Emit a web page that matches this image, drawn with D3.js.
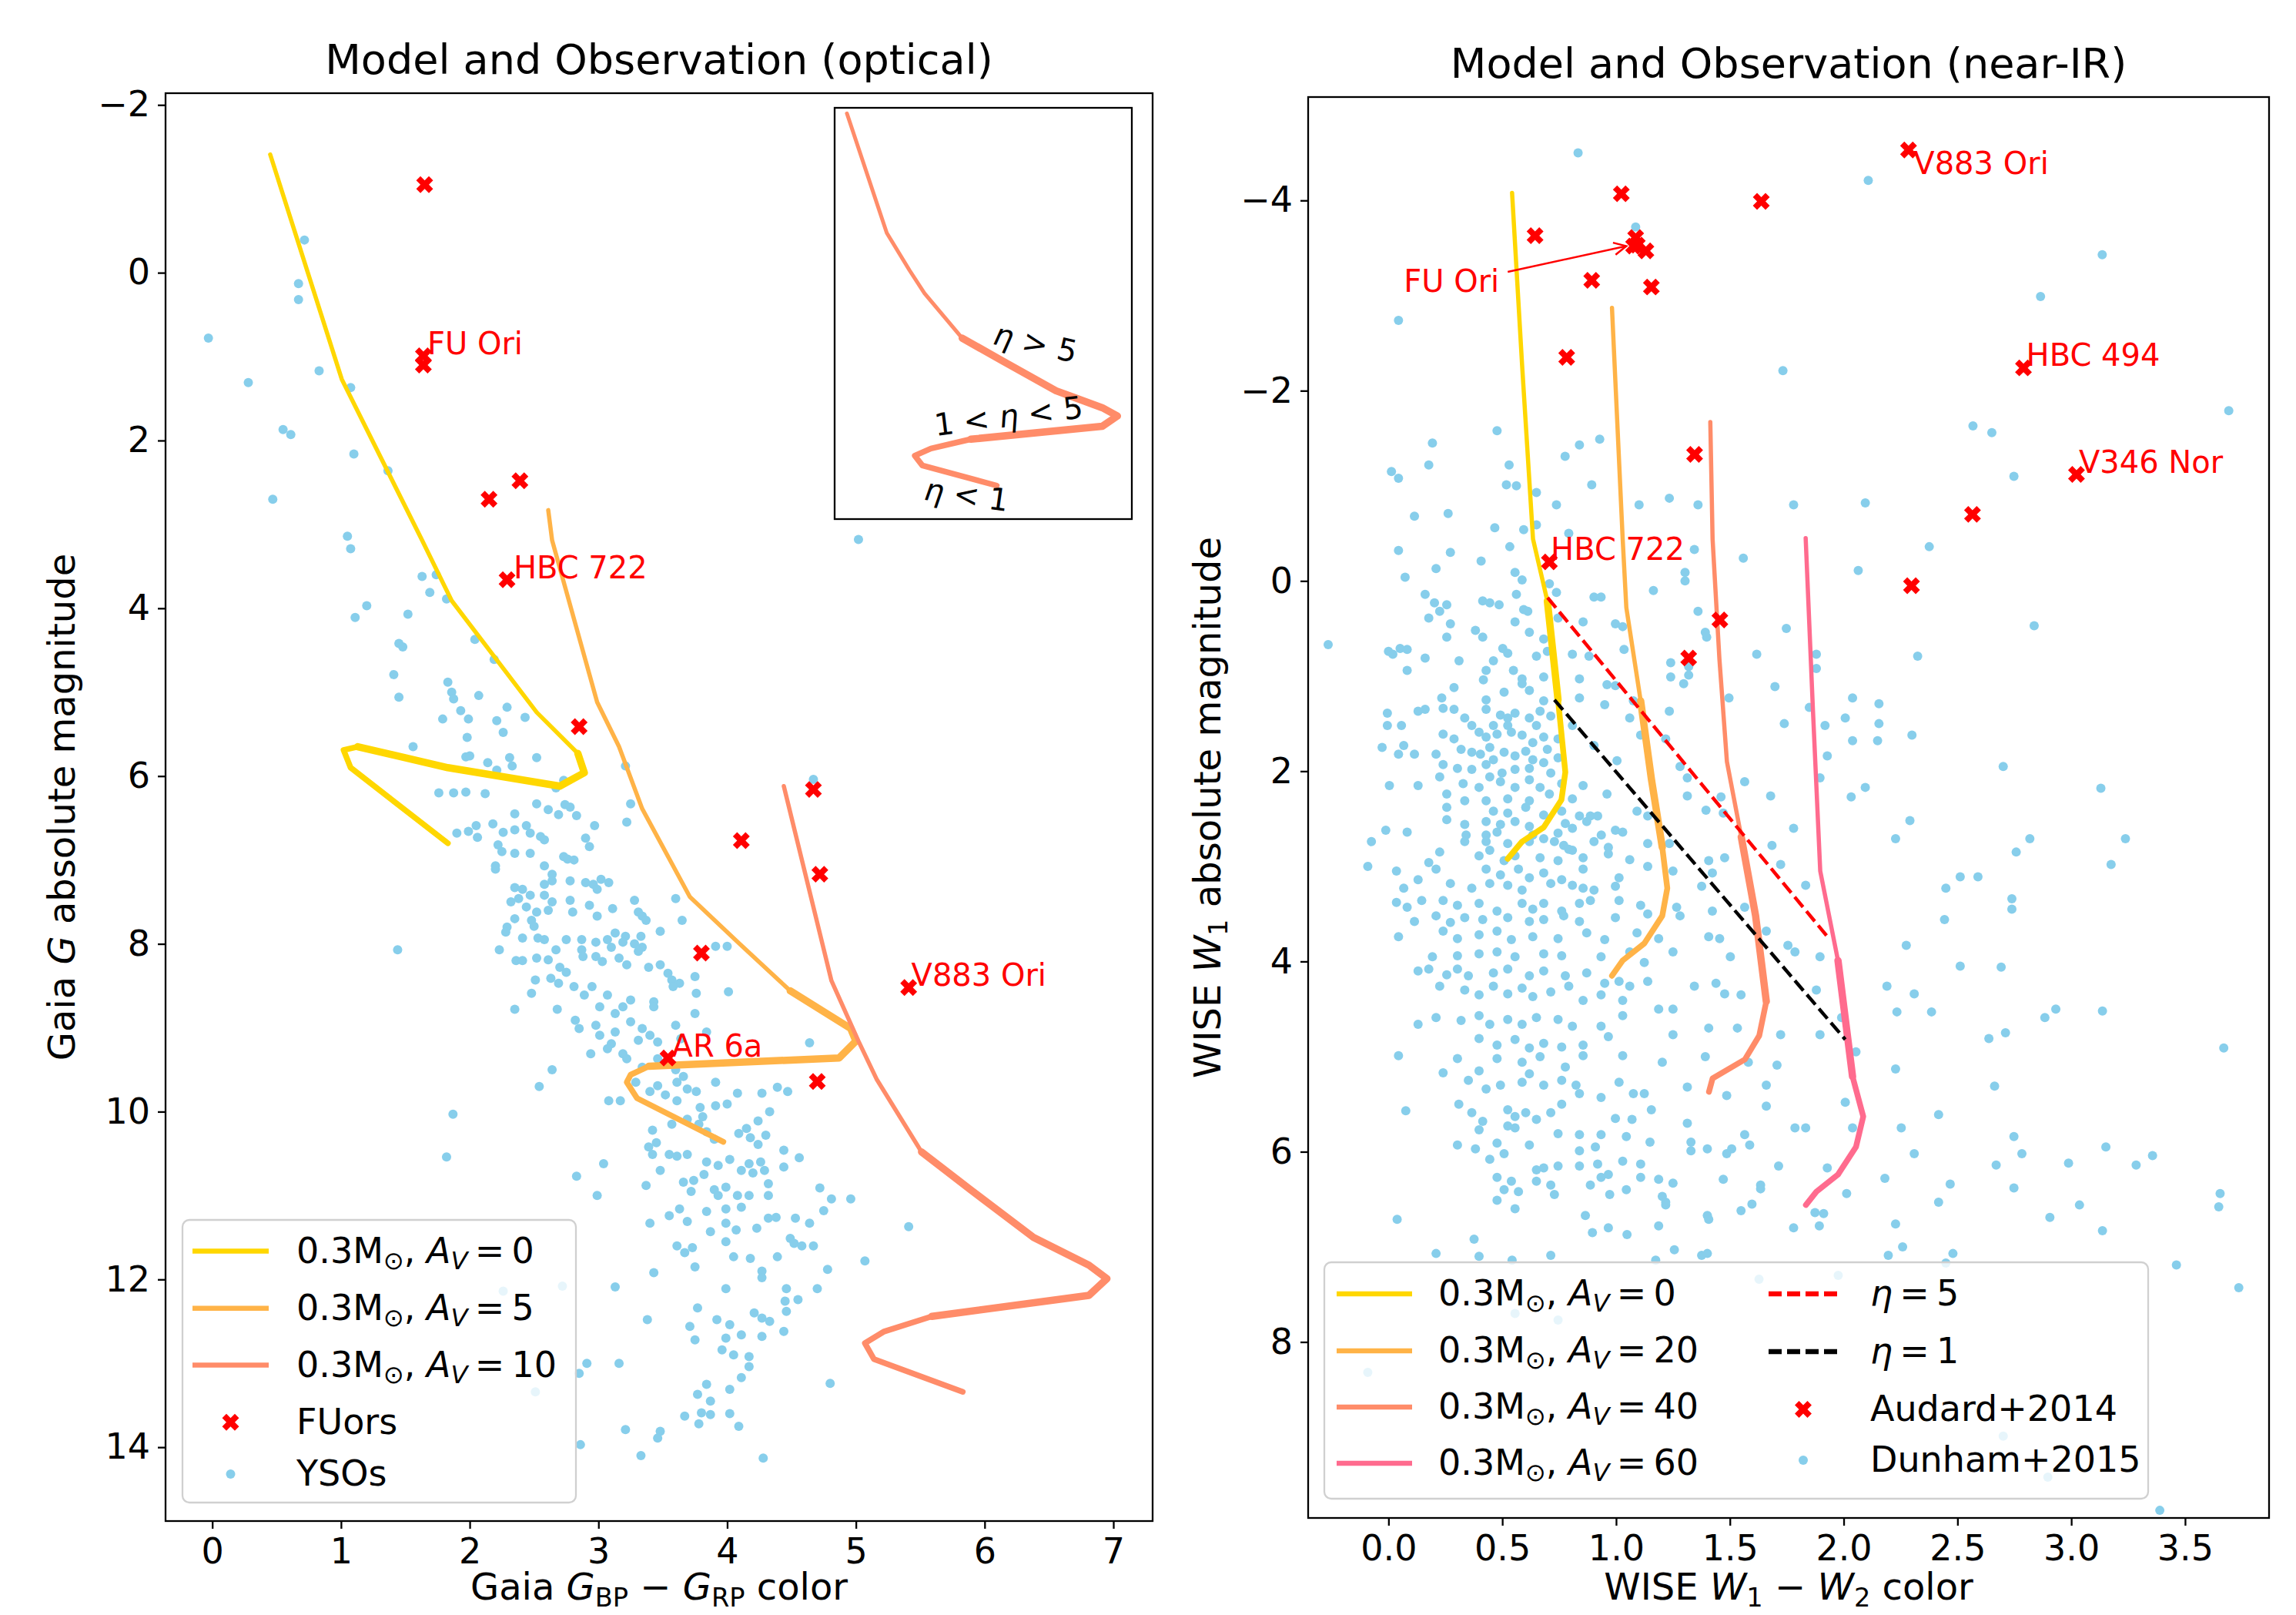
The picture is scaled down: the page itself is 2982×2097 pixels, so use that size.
<!DOCTYPE html>
<html>
<head>
<meta charset="utf-8">
<script src="https://cdn.jsdelivr.net/npm/d3@7"></script>
<style>
  body { margin: 0; background: #fff; }
  text { font-family: "DejaVu Sans", sans-serif; white-space: pre; }
</style>
</head>
<body>
<svg id="fig"></svg>
<script>
// ---------------- data ----------------
// model tracks: [colour, magnitude, regime]; regime a = early, b = eta>5 .. 1<eta<5, c = eta<1
const opticalAv = [0, 5, 10];
const opticalTracks = [
  [[0.45,-1.41,'a'],[1.006,1.27,'a'],[1.63,3.19,'a'],[1.86,3.91,'a'],[2.52,5.24,'a'],[2.84,5.73,'b'],[2.89,5.96,'b'],[2.70,6.12,'b'],[1.83,5.90,'b'],[1.13,5.65,'c'],[1.02,5.69,'c'],[1.075,5.90,'c'],[1.83,6.80,'c']],
  [[2.61,2.83,'a'],[2.64,3.19,'a'],[2.99,5.12,'a'],[3.16,5.65,'a'],[3.34,6.39,'a'],[3.71,7.44,'a'],[4.09,7.99,'a'],[4.49,8.56,'b'],[4.96,9.01,'b'],[5.00,9.16,'b'],[4.87,9.36,'b'],[3.39,9.46,'c'],[3.25,9.56,'c'],[3.22,9.65,'c'],[3.30,9.84,'c'],[3.97,10.36,'c']],
  [[4.44,6.12,'a'],[4.81,8.44,'a'],[5.02,9.16,'a'],[5.16,9.61,'a'],[5.51,10.48,'b'],[5.89,10.93,'b'],[6.38,11.50,'b'],[6.81,11.83,'b'],[6.95,11.99,'b'],[6.81,12.19,'b'],[5.59,12.44,'c'],[5.22,12.62,'c'],[5.07,12.76,'c'],[5.14,12.95,'c'],[5.83,13.34,'c']]
];
const opticalFuors = [[1.65,-1.05],[1.64,0.99],[1.64,1.10],[2.15,2.70],[2.39,2.48],[2.29,3.66],[2.85,5.41],[4.67,6.16],[4.11,6.77],[4.72,7.17],[3.80,8.11],[5.41,8.52],[3.54,9.36],[4.70,9.64]];
const opticalNames = [['FU Ori',1.67,0.97],['HBC 722',2.34,3.64],['V883 Ori',5.43,8.50],['AR 6a',3.57,9.34]];
const opticalYsos = [
  [0.716,-0.39],[0.67,0.13],[0.67,0.32],[-0.03,0.78],[0.83,1.17],[0.28,1.31],[1.075,1.37],[0.55,1.87],[0.61,1.93],[1.10,2.16],[1.365,2.36],[0.47,2.70],[1.05,3.14],[5.02,3.18],
  [1.075,3.29],[1.63,3.62],[1.74,3.60],[1.69,3.81],[1.82,3.89],[1.20,3.97],[1.11,4.11],[1.52,4.07],[2.04,4.37],[1.45,4.42],[1.48,4.46],[2.19,4.61],[1.41,4.79],[1.83,4.88],[1.86,5.00],[1.45,5.06],
  [1.875,5.08],[2.07,5.04],[2.29,5.18],[1.93,5.22],[1.79,5.32],[1.99,5.32],[2.21,5.34],[2.43,5.30],[2.26,5.48],[1.98,5.54],[1.56,5.65],[1.97,5.77],[2.00,5.76],[2.14,5.84],[2.31,5.78],[2.52,5.78],
  [2.33,5.88],[2.21,5.93],[2.73,6.05],[2.67,6.14],[3.21,5.88],[1.76,6.20],[1.875,6.20],[1.97,6.19],[2.12,6.21],[2.52,6.33],[2.61,6.40],[2.74,6.34],[2.78,6.37],[2.69,6.46],[2.83,6.47],[2.35,6.45],
  [3.25,6.33],[3.22,6.55],[2.97,6.59],[2.18,6.57],[2.05,6.59],[1.90,6.68],[1.99,6.66],[2.06,6.73],[2.26,6.67],[2.35,6.64],[2.44,6.59],[2.47,6.68],[2.55,6.72],[2.58,6.76],[2.90,6.74],[2.93,6.84],
  [2.22,6.82],[2.25,6.90],[2.35,6.92],[2.47,6.92],[2.20,7.07],[2.58,7.07],[2.73,6.96],[2.76,6.99],[2.81,7.00],[2.20,7.11],[2.64,7.17],[2.78,7.25],[2.35,7.33],[2.41,7.35],[2.38,7.46],[2.32,7.50],
  [2.58,7.29],[2.64,7.25],[2.90,7.27],[2.96,7.29],[3.02,7.23],[3.08,7.27],[2.99,7.35],[2.47,7.42],[2.58,7.42],[2.64,7.50],[2.44,7.56],[2.52,7.62],[2.61,7.60],[2.35,7.70],[2.29,7.80],[2.28,7.86],
  [2.48,7.72],[2.50,7.79],[2.78,7.48],[2.80,7.62],[2.93,7.54],[2.99,7.67],[3.11,7.58],[3.28,7.48],[3.31,7.62],[3.34,7.67],[3.37,7.72],[3.60,7.46],[3.65,7.72],[3.48,7.85],[3.33,7.91],[3.21,7.91],
  [3.13,7.87],[3.07,7.95],[3.19,7.98],[3.28,8.00],[3.34,8.04],[3.10,8.04],[2.98,7.98],[2.87,7.95],[2.75,7.95],[2.58,7.95],[2.53,7.93],[2.41,7.93],[2.23,8.07],[2.36,8.20],[2.41,8.20],[2.52,8.17],
  [2.61,8.19],[2.67,8.07],[2.70,8.28],[2.75,8.34],[2.87,8.07],[2.88,8.15],[2.98,8.15],[3.03,8.21],[3.16,8.17],[3.22,8.25],[3.31,8.09],[3.39,8.28],[3.48,8.25],[3.54,8.35],[3.57,8.43],[3.63,8.47],
  [3.75,8.39],[3.91,8.03],[4.00,8.03],[4.01,8.57],[3.76,8.59],[3.58,8.51],[3.43,8.69],[3.43,8.75],[3.25,8.67],[3.19,8.75],[3.13,8.83],[3.07,8.61],[3.01,8.75],[2.95,8.51],[2.89,8.61],[2.81,8.51],
  [2.69,8.47],[2.63,8.41],[2.51,8.43],[2.48,8.59],[2.35,8.78],[2.68,8.78],[2.82,8.91],[2.85,9.01],[2.98,8.97],[3.01,9.09],[3.13,9.05],[3.25,8.93],[3.34,9.01],[3.40,9.09],[3.31,9.15],[3.46,9.17],
  [3.60,8.97],[3.75,8.83],[3.84,9.05],[3.64,9.13],[3.46,9.37],[3.34,9.47],[3.10,9.19],[3.07,9.25],[3.19,9.31],[3.22,9.37],[2.94,9.31],[4.64,9.18],[2.64,9.50],[3.60,9.50],[3.66,9.58],[1.44,8.07],[4.67,6.04],
  [2.54,9.70],[3.08,9.87],[3.17,9.87],[3.29,9.65],[3.40,9.76],[3.46,9.69],[3.52,9.80],[3.61,9.65],[3.69,9.73],[3.76,9.76],[3.91,9.65],[3.61,9.87],[3.79,9.95],[3.91,9.93],[4.00,9.91],[4.08,9.78],
  [4.27,9.78],[4.39,9.71],[4.47,9.76],[4.33,10.00],[4.24,10.11],[4.15,10.20],[4.09,10.26],[4.18,10.31],[4.30,10.28],[4.24,10.39],[3.42,10.22],[3.45,10.37],[3.57,10.15],[3.69,10.09],[3.78,10.15],
  [3.84,10.24],[3.81,10.06],[3.90,10.33],[3.39,10.42],[3.42,10.51],[3.55,10.51],[3.61,10.53],[3.69,10.51],[3.84,10.60],[3.93,10.64],[4.02,10.57],[4.17,10.62],[4.26,10.60],[4.11,10.70],[4.20,10.73],
  [4.29,10.70],[4.44,10.46],[4.56,10.55],[4.44,10.66],[3.48,10.70],[3.82,10.75],[3.66,10.84],[3.74,10.82],[4.32,10.86],[3.90,10.93],[3.99,10.90],[3.93,11.00],[4.08,11.00],[4.17,11.00],[4.32,11.00],
  [3.72,10.95],[3.37,10.88],[3.04,10.62],[2.83,10.77],[2.99,11.00],[1.82,10.54],[1.87,10.03],[3.63,11.16],[3.84,11.19],[3.99,11.16],[4.11,11.14],[4.72,10.91],[4.81,11.04],[4.96,11.04],[4.75,11.18],
  [4.32,11.27],[4.38,11.26],[4.53,11.27],[4.64,11.33],[3.55,11.24],[3.40,11.33],[3.69,11.31],[3.87,11.43],[3.99,11.33],[4.07,11.41],[4.23,11.39],[4.49,11.51],[4.52,11.57],[4.58,11.60],[4.67,11.60],
  [3.99,11.55],[3.61,11.60],[3.67,11.68],[3.73,11.62],[4.05,11.73],[4.18,11.75],[4.39,11.73],[5.41,11.37],[5.07,11.78],[3.75,11.85],[3.43,11.92],[4.27,11.90],[4.27,11.98],[4.78,11.88],[4.70,12.11],
  [4.46,12.11],[3.99,12.11],[3.13,12.09],[2.72,12.08],[2.26,12.14],[4.55,12.24],[4.45,12.26],[3.77,12.34],[3.38,12.48],[3.92,12.48],[4.21,12.40],[4.27,12.46],[4.33,12.50],[4.46,12.38],[4.02,12.54],
  [4.11,12.66],[4.27,12.68],[4.44,12.62],[3.71,12.56],[3.99,12.70],[3.75,12.72],[3.96,12.84],[4.05,12.90],[4.17,12.92],[2.91,13.00],[3.16,13.00],[4.17,13.04],[4.11,13.17],[4.80,13.24],[4.02,13.31],
  [3.84,13.25],[3.77,13.37],[3.87,13.45],[3.67,13.63],[3.80,13.59],[3.87,13.61],[4.02,13.60],[3.78,13.72],[4.09,13.75],[3.21,13.79],[3.48,13.81],[3.46,13.89],[3.33,14.10],[4.28,14.13],[2.86,13.97],
  [2.85,13.12],[2.51,13.34]
];
// inset curve labels: [text parts, colour, magnitude, rotation]
const insetNotes = [
  [[['η','i'],[' > 5','']], 6.19, 10.57, 13],
  [[['1 < ',''],['η','i'],[' < 5','']], 5.94, 11.99, -7],
  [[['η','i'],[' < 1','']], 5.55, 13.52, 8]
];

const irAv = [0, 20, 40, 60];
const irTracks = [
  [[0.543,-4.08,'a'],[0.587,-2.27,'a'],[0.635,-0.44,'a'],[0.698,0.21,'b'],[0.745,1.25,'c'],[0.777,2.01,'c'],[0.760,2.30,'c'],[0.682,2.59,'c'],[0.587,2.74,'c'],[0.524,2.92,'c']],
  [[0.982,-2.87,'a'],[1.029,-0.44,'a'],[1.045,0.28,'a'],[1.108,1.26,'b'],[1.155,2.08,'b'],[1.203,2.80,'c'],[1.225,3.23,'c'],[1.203,3.52,'c'],[1.124,3.81,'c'],[1.029,3.99,'c'],[0.982,4.15,'c']],
  [[1.414,-1.67,'a'],[1.424,-0.44,'a'],[1.454,0.82,'a'],[1.487,1.90,'a'],[1.55,2.69,'b'],[1.613,3.52,'b'],[1.66,4.42,'c'],[1.629,4.78,'c'],[1.566,5.03,'c'],[1.424,5.23,'c'],[1.408,5.37,'c']],
  [[1.833,-0.45,'a'],[1.865,1.36,'a'],[1.897,3.05,'a'],[1.975,3.99,'b'],[2.039,5.21,'c'],[2.086,5.63,'c'],[2.054,5.95,'c'],[1.975,6.24,'c'],[1.88,6.42,'c'],[1.834,6.56,'c']]
];
const etaLines = [
  ['5', [[0.699,0.175],[1.929,3.74]]],
  ['1', [[0.729,1.25],[2.007,4.82]]]
];
const irFuors = [[2.285,-4.53],[1.023,-4.07],[1.638,-3.99],[0.644,-3.63],[1.086,-3.61],[1.077,-3.52],[1.093,-3.53],[1.131,-3.47],[0.893,-3.16],[1.155,-3.09],[0.783,-2.35],[2.79,-2.24],[1.345,-1.33],[3.023,-1.12],[2.566,-0.70],[0.707,-0.20],[2.298,0.05],[1.456,0.41],[1.319,0.81]];
const irNames = [['V883 Ori',2.307,-4.28],['HBC 494',2.802,-2.26],['V346 Nor',3.033,-1.135],['HBC 722',0.713,-0.22],['FU Ori',0.067,-3.04]];
const fuOriArrow = [[0.524,-3.25],[1.045,-3.52]];
const irYsos = [
  [0.833,-4.50],[2.108,-4.21],[1.086,-3.72],[3.136,-3.43],[2.865,-2.99],[0.044,-2.74],[1.733,-2.21],[3.692,-1.79],[2.568,-1.63],[2.651,-1.56],[0.477,-1.58],[0.193,-1.45],[0.839,-1.43],
  [0.928,-1.49],[0.776,-1.31],[0.177,-1.22],[0.530,-1.22],[0.013,-1.15],[0.044,-1.08],[0.518,-1.01],[0.562,-1.00],[0.893,-1.01],[2.748,-1.10],[0.650,-0.93],[1.234,-0.87],[1.101,-0.80],
  [1.360,-0.80],[1.780,-0.80],[2.095,-0.82],[0.738,-0.80],[0.114,-0.68],[0.262,-0.71],[0.467,-0.56],[0.594,-0.54],[0.650,-0.59],[0.792,-0.50],
  [0.044,-0.32],[0.272,-0.30],[0.533,-0.36],[1.344,-0.33],[1.559,-0.24],[2.376,-0.36],[0.407,-0.21],[0.209,-0.13],[0.073,-0.04],[0.556,-0.09],[0.587,-0.01],[0.707,0.03],[1.303,-0.09],
  [1.303,0.00],[2.064,-0.11],[1.164,0.10],[0.903,0.17],[0.934,0.17],[0.161,0.14],[0.562,0.14],[0.738,0.12],[0.414,0.21],[0.445,0.23],[0.202,0.23],[0.256,0.25],[0.486,0.25],[0.594,0.30],
  [0.612,0.32],[0.225,0.32],[0.177,0.39],[0.272,0.45],[0.556,0.43],[0.745,0.39],[1.360,0.32],[0.997,0.45],[1.029,0.48],[0.855,0.43],[1.748,0.50],[2.837,0.47],[0.382,0.52],[0.414,0.59],
  [0.256,0.59],[0.619,0.54],[0.682,0.61],[1.398,0.59],[1.392,0.54],[-0.265,0.67],[0.0,0.74],[0.019,0.77],[0.051,0.71],[0.082,0.72],[0.161,0.81],[0.310,0.84],[0.502,0.71],[0.524,0.76],
  [0.461,0.84],[0.650,0.79],[0.698,0.74],[0.808,0.77],[0.881,0.79],[1.035,0.72],[1.240,0.86],[1.319,0.90],[1.618,0.77],[1.880,0.77],[1.880,0.92],[2.325,0.79],[0.082,0.94],[0.429,0.94],
  [0.549,0.94],[0.417,1.04],[0.587,1.03],[0.682,1.01],[0.839,1.03],[0.960,1.09],[0.997,1.10],[1.240,1.01],[1.319,0.99],[1.297,1.08],[1.698,1.11],[0.288,1.12],[0.234,1.23],[0.508,1.17],
  [0.429,1.25],[0.587,1.08],[0.619,1.15],[0.682,1.26],[0.839,1.23],[0.950,1.30],[1.076,1.26],[1.496,1.23],[1.849,1.33],[2.039,1.23],[2.155,1.29],[0.161,1.35],[0.130,1.37],[-0.005,1.39],
  [0.240,1.34],[0.288,1.35],[0.335,1.44],[0.429,1.35],[0.492,1.41],[0.524,1.44],[0.556,1.39],[0.619,1.44],[0.666,1.37],[0.366,1.52],[0.461,1.52],[0.524,1.52],[0.650,1.52],[0.713,1.42],
  [0.808,1.52],[1.060,1.44],[1.234,1.37],[1.739,1.50],[1.918,1.52],[2.007,1.44],[2.155,1.50],[-0.005,1.52],[0.057,1.52],[0.240,1.61],[0.288,1.66],[0.398,1.59],[0.429,1.64],[0.477,1.61],
  [0.540,1.59],[0.587,1.62],[0.634,1.70],[0.682,1.64],[0.745,1.66],[1.108,1.62],[1.218,1.66],[2.039,1.68],[2.149,1.68],[2.300,1.62],[-0.028,1.75],[0.067,1.73],[0.044,1.82],[0.114,1.82],
  [0.209,1.82],[0.319,1.77],[0.366,1.80],[0.404,1.82],[0.445,1.75],[0.461,1.88],[0.508,1.80],[0.556,1.84],[0.603,1.79],[0.634,1.88],[0.698,1.77],[0.745,1.86],[0.903,1.73],[1.004,1.89],
  [1.281,1.95],[1.928,1.84],[2.701,1.95],[0.240,1.93],[0.303,1.97],[0.366,1.98],[0.429,1.93],[0.499,2.02],[0.556,1.98],[0.619,1.97],[0.682,1.91],[0.713,2.02],[0.445,2.06],[0.225,2.06],
  [0.004,2.15],[0.130,2.15],[0.328,2.13],[0.398,2.17],[0.492,2.11],[0.556,2.17],[0.619,2.09],[0.666,2.17],[0.761,2.13],[0.855,2.15],[1.313,2.07],[1.565,2.11],[1.896,2.07],[2.095,2.17],
  [3.130,2.18],[0.707,2.24],[0.524,2.29],[0.429,2.31],[0.335,2.31],[0.256,2.24],[0.619,2.31],[0.808,2.29],[0.960,2.24],[1.313,2.26],[1.461,2.27],[1.679,2.26],[2.033,2.27],[0.256,2.38],
  [0.461,2.42],[0.524,2.44],[0.603,2.38],[0.682,2.46],[0.761,2.42],[0.839,2.47],[0.887,2.47],[0.919,2.47],[1.092,2.42],[1.139,2.47],[1.395,2.41],[1.471,2.44],[0.256,2.51],[0.335,2.56],
  [0.429,2.53],[0.492,2.56],[0.556,2.53],[0.619,2.58],[0.777,2.55],[0.808,2.60],[0.871,2.53],[0.997,2.62],[2.291,2.52],[-0.012,2.62],[0.082,2.64],[0.341,2.67],[0.429,2.67],[0.477,2.64],
  [0.634,2.67],[0.682,2.71],[0.745,2.65],[0.935,2.67],[1.029,2.64],[1.780,2.60],[-0.075,2.74],[0.335,2.74],[0.429,2.74],[0.524,2.76],[0.619,2.74],[0.729,2.74],[0.770,2.78],[0.808,2.83],
  [0.903,2.74],[0.966,2.80],[1.139,2.76],[1.234,2.76],[2.228,2.71],[2.818,2.71],[3.238,2.71],[2.758,2.85],[0.225,2.85],[0.398,2.89],[0.445,2.83],[0.508,2.94],[0.556,2.89],[0.666,2.91],
  [0.745,2.94],[0.792,2.82],[0.855,2.91],[0.966,2.87],[1.060,2.93],[1.407,2.94],[1.477,2.91],[1.685,2.78],[-0.091,3.00],[0.035,3.05],[0.177,2.96],[0.209,3.03],[0.130,3.14],[0.429,3.03],
  [0.492,3.09],[0.571,3.03],[0.619,3.12],[0.682,3.07],[0.761,3.14],[0.855,3.03],[1.013,3.12],[1.139,3.00],[1.250,3.05],[1.423,3.07],[1.723,2.98],[3.175,2.98],[2.512,3.11],[2.590,3.11],
  [0.067,3.23],[0.272,3.18],[0.366,3.23],[0.445,3.18],[0.524,3.20],[0.587,3.25],[0.713,3.18],[0.808,3.20],[0.855,3.23],[0.903,3.25],[0.997,3.21],[1.376,3.21],[1.833,3.20],[2.449,3.23],
  [0.035,3.38],[0.082,3.43],[0.146,3.36],[0.240,3.36],[0.303,3.41],[0.398,3.39],[0.477,3.47],[0.587,3.39],[0.634,3.45],[0.682,3.39],[0.761,3.47],[0.839,3.39],[0.887,3.36],[1.013,3.36],
  [1.108,3.41],[1.266,3.43],[2.739,3.34],[2.739,3.45],[0.114,3.58],[0.209,3.52],[0.272,3.59],[0.335,3.54],[0.414,3.56],[0.524,3.54],[0.619,3.58],[0.682,3.56],[0.770,3.52],[0.839,3.58],
  [0.997,3.54],[1.139,3.50],[1.281,3.52],[1.423,3.47],[1.565,3.43],[2.443,3.56],[0.044,3.74],[0.240,3.68],[0.303,3.76],[0.398,3.72],[0.477,3.68],[0.540,3.77],[0.634,3.74],[0.745,3.76],
  [0.871,3.70],[0.950,3.77],[1.092,3.70],[1.187,3.76],[1.407,3.74],[1.455,3.76],[1.660,3.68],[0.193,3.95],[0.303,3.94],[0.398,3.92],[0.477,3.90],[0.556,3.95],[0.682,3.92],[0.761,3.94],
  [0.934,3.95],[1.060,3.90],[1.124,4.01],[1.250,3.90],[1.502,3.95],[1.755,3.83],[1.786,3.90],[1.896,3.95],[2.275,3.83],[2.512,4.05],[2.692,4.06],[0.130,4.10],[0.177,4.08],[0.256,4.14],
  [0.303,4.08],[0.351,4.15],[0.461,4.12],[0.524,4.08],[0.619,4.15],[0.682,4.10],[0.777,4.15],[0.871,4.12],[0.950,4.23],[1.013,4.21],[1.060,4.26],[1.139,4.21],[1.344,4.26],[1.439,4.23],
  [1.880,4.30],[2.190,4.26],[2.310,4.34],[0.225,4.26],[0.335,4.30],[0.398,4.35],[0.461,4.26],[0.524,4.34],[0.587,4.28],[0.634,4.37],[0.713,4.32],[0.792,4.26],[0.855,4.41],[0.934,4.35],
  [1.029,4.41],[1.187,4.50],[1.250,4.50],[1.477,4.34],[1.549,4.35],[2.234,4.53],[2.386,4.53],[2.884,4.59],[2.932,4.50],[3.137,4.52],[0.130,4.66],[0.209,4.59],[0.319,4.62],[0.398,4.57],
  [0.445,4.66],[0.524,4.61],[0.587,4.66],[0.650,4.59],[0.745,4.61],[0.808,4.68],[0.934,4.68],[1.029,4.57],[1.250,4.77],[1.407,4.70],[1.533,4.70],[1.723,4.77],[1.896,4.77],[1.991,4.59],
  [2.638,4.81],[2.711,4.75],[0.044,4.99],[0.303,5.02],[0.398,4.81],[0.477,4.88],[0.556,4.82],[0.619,4.91],[0.682,4.86],[0.761,4.90],[0.855,4.88],[0.966,4.79],[0.477,5.02],[0.587,5.06],
  [0.666,5.00],[0.777,5.11],[0.855,4.99],[1.029,4.99],[1.203,5.06],[1.392,5.00],[1.581,5.06],[1.707,5.09],[2.054,4.95],[2.228,5.13],[3.670,4.91],[0.240,5.17],[0.398,5.15],[0.619,5.18],
  [0.351,5.25],[0.429,5.34],[0.492,5.30],[0.587,5.27],[0.682,5.30],[0.761,5.25],[0.824,5.30],[1.013,5.27],[1.313,5.32],[1.660,5.30],[2.663,5.31],[0.076,5.57],[0.309,5.50],[0.366,5.59],
  [0.414,5.68],[0.524,5.56],[0.556,5.63],[0.603,5.59],[0.650,5.66],[0.713,5.59],[0.761,5.50],[0.839,5.39],[0.934,5.43],[1.076,5.39],[1.124,5.39],[1.155,5.56],[0.997,5.65],[1.070,5.66],
  [1.313,5.70],[1.486,5.41],[1.660,5.52],[2.007,5.48],[2.417,5.61],[0.398,5.77],[0.524,5.73],[0.556,5.75],[0.745,5.81],[0.839,5.82],[0.934,5.82],[1.045,5.84],[1.149,5.90],[1.329,5.90],
  [1.565,5.82],[1.786,5.75],[1.833,5.75],[2.039,5.75],[2.253,5.75],[2.748,5.84],[0.303,5.93],[0.382,5.97],[0.477,5.91],[0.508,6.02],[0.619,5.93],[0.839,5.99],[0.909,5.95],[1.329,5.99],
  [1.401,5.97],[1.486,6.02],[1.508,5.97],[1.587,5.93],[2.310,6.02],[2.783,6.02],[3.152,5.95],[3.357,6.04],[0.445,6.08],[0.682,6.17],[0.745,6.15],[0.839,6.15],[0.919,6.13],[1.029,6.10],
  [1.108,6.13],[1.714,6.15],[1.928,6.17],[2.670,6.14],[2.988,6.12],[3.285,6.14],[0.477,6.27],[0.540,6.31],[0.650,6.19],[0.650,6.31],[0.713,6.35],[0.887,6.35],[0.934,6.27],[0.966,6.24],
  [1.108,6.27],[1.187,6.29],[1.250,6.33],[1.471,6.29],[1.635,6.35],[2.181,6.28],[2.468,6.34],[2.748,6.38],[0.508,6.40],[0.571,6.42],[0.729,6.45],[0.972,6.45],[1.045,6.40],[1.203,6.47],
  [1.218,6.56],[1.635,6.39],[2.013,6.44],[3.654,6.44],[0.477,6.51],[0.556,6.60],[1.218,6.53],[2.417,6.53],[3.036,6.56],[3.648,6.58],[1.549,6.62],[1.597,6.55],[1.874,6.64],[1.912,6.65],
  [0.038,6.71],[0.865,6.67],[1.401,6.67],[1.407,6.71],[2.906,6.69],[0.966,6.80],[1.187,6.78],[1.780,6.80],[1.893,6.78],[2.228,6.76],[3.137,6.83],[0.896,6.85],[1.048,6.87],[0.376,6.92],
  [2.259,7.00],[1.256,7.03],[2.196,7.09],[2.480,7.07],[0.209,7.07],[0.398,7.10],[0.713,7.09],[1.376,7.09],[1.401,7.07],[3.462,7.19],[0.543,7.14],[1.174,7.14],[3.736,7.43],
  [-0.091,8.32],[2.449,7.17],[1.976,7.30],[1.628,7.34],[0.556,7.70],[0.745,7.77],[2.701,8.99],[2.897,9.42],[3.389,9.77]
];

// ---------------- styles / layout ----------------
const W = 2982, H = 2097;
const trackColors = ['#FFD700', '#FFB347', '#FF8C69', '#FF6B8E'];
const trackWidth = {a: 5.5, b: 9.5, c: 7.5};
const ysoColor = '#87CEEB';
const fuorColor = '#FF0000';

const svg = d3.select('#fig').attr('width', W).attr('height', H);
svg.append('rect').attr('width', W).attr('height', H).attr('fill', '#fff');

// text with italic / subscript pieces, parts = [[string, 'i' | 's' | 'is' | '']]
function richText(sel, parts, size) {
    let shift = 0;
    parts.forEach(([t, st]) => {
        const sub = st.includes('s');
        const ts = sel.append('tspan').text(t)
            .attr('font-style', st.includes('i') ? 'italic' : 'normal')
            .attr('font-size', sub ? size * 0.7 : size);
        const want = sub ? size * 0.18 : 0;
        if (want !== shift) { ts.attr('dy', want - shift); shift = want; }
    });
    return sel;
}

function xMarker(sel, cx, cy) {
    return sel.append('path')
        .attr('d', d3.symbol(d3.symbolCross, 300)())
        .attr('transform', `translate(${cx},${cy}) rotate(45)`)
        .attr('fill', fuorColor);
}

// split a track into runs of equal regime
function runs(track) {
    const out = [];
    for (let i = 0; i < track.length - 1; i++) {
        const last = out[out.length - 1];
        if (last && last.regime === track[i][2]) last.pts.push(track[i + 1]);
        else out.push({regime: track[i][2], pts: [track[i], track[i + 1]]});
    }
    return out;
}

function avLabel(av) {
    return [['0.3M', ''], ['⊙', 's'], [', ', ''], ['A', 'i'], ['V', 'is'], ['\u2009=\u2009' + av, '']];
}

class CmdPanel {

    constructor(_config) {
        this.config = _config;
        this.initVis();
    }

    initVis() {
        let vis = this;
        const c = vis.config;

        vis.g = svg.append('g');
        vis.x = d3.scaleLinear().domain(c.xDomain).range([c.left, c.right]);
        vis.y = d3.scaleLinear().domain(c.yDomain).range([c.top, c.bottom]);

        vis.g.append('clipPath').attr('id', c.id + '-clip')
            .append('rect')
            .attr('x', c.left).attr('y', c.top)
            .attr('width', c.right - c.left).attr('height', c.bottom - c.top);

        vis.chart = vis.g.append('g').attr('clip-path', `url(#${c.id}-clip)`);
        vis.line = d3.line().x(d => vis.x(d[0])).y(d => vis.y(d[1]));
    }

    render() {
        let vis = this;
        const c = vis.config;

        // YSOs
        vis.chart.selectAll('.yso')
            .data(c.ysos)
            .join('circle')
            .attr('class', 'yso')
            .attr('cx', d => vis.x(d[0]))
            .attr('cy', d => vis.y(d[1]))
            .attr('r', 6)
            .attr('fill', ysoColor);

        // model tracks
        c.tracks.forEach((track, i) => {
            runs(track).forEach(r => {
                vis.chart.append('path')
                    .attr('d', vis.line(r.pts))
                    .attr('fill', 'none')
                    .attr('stroke', trackColors[i])
                    .attr('stroke-width', trackWidth[r.regime])
                    .attr('stroke-linejoin', 'round')
                    .attr('stroke-linecap', 'round');
            });
        });

        // eta lines
        (c.etaLines || []).forEach(([eta, pts]) => {
            vis.chart.append('path')
                .attr('d', vis.line(pts))
                .attr('fill', 'none')
                .attr('stroke', eta === '5' ? '#FF0000' : '#000')
                .attr('stroke-width', 4.5)
                .attr('stroke-dasharray', '17,7');
        });

        // FUors
        c.fuors.forEach(d => xMarker(vis.chart, vis.x(d[0]), vis.y(d[1])));

        // names
        vis.g.selectAll('.name')
            .data(c.names)
            .join('text')
            .attr('class', 'name')
            .attr('x', d => vis.x(d[1]))
            .attr('y', d => vis.y(d[2]))
            .attr('font-size', 40)
            .attr('fill', fuorColor)
            .text(d => d[0]);

        if (c.arrow) {
            const [p0, p1] = c.arrow;
            const x0 = vis.x(p0[0]), y0 = vis.y(p0[1]), x1 = vis.x(p1[0]), y1 = vis.y(p1[1]);
            const ang = Math.atan2(y1 - y0, x1 - x0);
            vis.g.append('line')
                .attr('x1', x0).attr('y1', y0).attr('x2', x1).attr('y2', y1)
                .attr('stroke', fuorColor).attr('stroke-width', 2.5);
            const hl = 16, hw = 8;
            const bx = x1 - hl * Math.cos(ang), by = y1 - hl * Math.sin(ang);
            vis.g.append('path')
                .attr('d', `M${bx + hw * Math.sin(ang)},${by - hw * Math.cos(ang)} L${x1},${y1} L${bx - hw * Math.sin(ang)},${by + hw * Math.cos(ang)}`)
                .attr('fill', 'none').attr('stroke', fuorColor).attr('stroke-width', 2.5);
        }

        vis.renderAxes();
        if (c.inset) vis.renderInset();
        vis.renderLegend();
    }

    renderAxes() {
        let vis = this;
        const c = vis.config;

        const xAxis = d3.axisBottom(vis.x).tickValues(c.xTicks).tickFormat(d3.format(c.xFormat))
            .tickSize(10).tickSizeOuter(0).tickPadding(12);
        const yAxis = d3.axisLeft(vis.y).tickValues(c.yTicks).tickFormat(d3.format('d'))
            .tickSize(10).tickSizeOuter(0).tickPadding(10);

        const gx = vis.g.append('g').attr('transform', `translate(0,${c.bottom})`).call(xAxis);
        const gy = vis.g.append('g').attr('transform', `translate(${c.left},0)`).call(yAxis);
        [gx, gy].forEach(ax => {
            ax.select('.domain').remove();
            ax.selectAll('line').attr('stroke', '#000').attr('stroke-width', 2.3);
            ax.selectAll('text').attr('font-size', 46).attr('fill', '#000')
                .attr('font-family', '"DejaVu Sans", sans-serif');
        });

        vis.g.append('rect')
            .attr('x', c.left).attr('y', c.top)
            .attr('width', c.right - c.left).attr('height', c.bottom - c.top)
            .attr('fill', 'none').attr('stroke', '#000').attr('stroke-width', 2.3);

        vis.g.append('text')
            .attr('x', (c.left + c.right) / 2).attr('y', c.top - 25)
            .attr('text-anchor', 'middle').attr('font-size', 54)
            .text(c.title);

        richText(vis.g.append('text')
            .attr('x', (c.left + c.right) / 2).attr('y', 2077)
            .attr('text-anchor', 'middle'), c.xLabel, 48);

        richText(vis.g.append('text')
            .attr('transform', `translate(${c.yLabelX},${(c.top + c.bottom) / 2}) rotate(-90)`)
            .attr('text-anchor', 'middle'), c.yLabel, 48);
    }

    renderInset() {
        let vis = this;
        const b = vis.config.inset;
        const ix = d3.scaleLinear().domain(b.xDomain).range([b.left, b.right]);
        const iy = d3.scaleLinear().domain(b.yDomain).range([b.top, b.bottom]);
        const line = d3.line().x(d => ix(d[0])).y(d => iy(d[1]));

        const ig = vis.g.append('g');
        ig.append('rect')
            .attr('x', b.left).attr('y', b.top)
            .attr('width', b.right - b.left).attr('height', b.bottom - b.top)
            .attr('fill', '#fff');
        runs(b.track).forEach(r => {
            ig.append('path')
                .attr('d', line(r.pts))
                .attr('fill', 'none')
                .attr('stroke', trackColors[2])
                .attr('stroke-width', r.regime === 'a' ? 5 : trackWidth[r.regime])
                .attr('stroke-linejoin', 'round')
                .attr('stroke-linecap', 'round');
        });
        b.notes.forEach(([parts, nx, ny, rot]) => {
            richText(ig.append('text')
                .attr('transform', `translate(${ix(nx)},${iy(ny)}) rotate(${rot})`)
                .attr('text-anchor', 'middle').attr('dy', 14), parts, 40);
        });
        ig.append('rect')
            .attr('x', b.left).attr('y', b.top)
            .attr('width', b.right - b.left).attr('height', b.bottom - b.top)
            .attr('fill', 'none').attr('stroke', '#000').attr('stroke-width', 2.3);
    }

    renderLegend() {
        let vis = this;
        const L = vis.config.legend;
        const lg = vis.g.append('g');

        lg.append('rect')
            .attr('x', L.box[0]).attr('y', L.box[1])
            .attr('width', L.box[2] - L.box[0]).attr('height', L.box[3] - L.box[1])
            .attr('rx', 9)
            .attr('fill', '#fff').attr('fill-opacity', 0.8)
            .attr('stroke', '#d0d0d0').attr('stroke-width', 2.3);

        L.items.forEach(it => {
            const [x0, x1] = it.key;
            const cx = (x0 + x1) / 2;
            if (it.kind === 'line') {
                lg.append('line').attr('x1', x0).attr('x2', x1).attr('y1', it.y).attr('y2', it.y)
                    .attr('stroke', it.color).attr('stroke-width', 6.5)
                    .attr('stroke-dasharray', it.dash || null);
            } else if (it.kind === 'x') {
                xMarker(lg, cx, it.y);
            } else {
                lg.append('circle').attr('cx', cx).attr('cy', it.y).attr('r', 6).attr('fill', ysoColor);
            }
            richText(lg.append('text').attr('x', it.tx).attr('y', it.y + 15), it.label, 46);
        });
    }
}

// ---------------- optical panel ----------------
const optical = new CmdPanel({
    id: 'optical',
    left: 215, right: 1497, top: 121, bottom: 1975,
    xDomain: [-0.363, 7.305], yDomain: [-2.14, 14.88],
    xTicks: d3.range(0, 8), yTicks: d3.range(-2, 15, 2), xFormat: 'd',
    title: 'Model and Observation (optical)',
    xLabel: [['Gaia ', ''], ['G', 'i'], ['BP', 's'], [' − ', ''], ['G', 'i'], ['RP', 's'], [' color', '']],
    yLabel: [['Gaia ', ''], ['G', 'i'], [' absolute magnitude', '']],
    yLabelX: 97,
    ysos: opticalYsos, tracks: opticalTracks, fuors: opticalFuors, names: opticalNames,
    inset: {
        left: 1084, right: 1470, top: 140, bottom: 674,
        xDomain: [4.326, 7.084], yDomain: [6.011, 13.99],
        track: opticalTracks[2], notes: insetNotes
    },
    legend: {
        box: [237, 1584, 748, 1951],
        items: opticalAv.map((av, i) => ({kind: 'line', color: trackColors[i], key: [250, 349], tx: 385,
            y: [1624.5, 1698.7, 1772.5][i], label: avLabel(av)}))
            .concat([
                {kind: 'x', key: [250, 349], tx: 385, y: 1846.7, label: [['FUors', '']]},
                {kind: 'dot', key: [250, 349], tx: 385, y: 1914, label: [['YSOs', '']]}
            ])
    }
});
optical.render();

// ---------------- near-IR panel ----------------
const nearIr = new CmdPanel({
    id: 'nearir',
    left: 1699, right: 2947, top: 126, bottom: 1971,
    xDomain: [-0.353, 3.869], yDomain: [-5.087, 9.85],
    xTicks: d3.range(0, 4, 0.5), yTicks: d3.range(-4, 9, 2), xFormat: '.1f',
    title: 'Model and Observation (near-IR)',
    xLabel: [['WISE ', ''], ['W', 'i'], ['1', 's'], [' − ', ''], ['W', 'i'], ['2', 's'], [' color', '']],
    yLabel: [['WISE ', ''], ['W', 'i'], ['1', 's'], [' absolute magnitude', '']],
    yLabelX: 1585,
    ysos: irYsos, tracks: irTracks, fuors: irFuors, names: irNames, arrow: fuOriArrow,
    etaLines: etaLines,
    legend: {
        box: [1720, 1639, 2790, 1946],
        items: irAv.map((av, i) => ({kind: 'line', color: trackColors[i], key: [1736, 1834], tx: 1868,
            y: [1680, 1754, 1827, 1900][i], label: avLabel(av)}))
            .concat([
                {kind: 'line', color: '#FF0000', dash: '17,7', key: [2297, 2387], tx: 2429, y: 1680, label: [['η', 'i'], ['\u2009=\u20095', '']]},
                {kind: 'line', color: '#000', dash: '17,7', key: [2297, 2387], tx: 2429, y: 1755, label: [['η', 'i'], ['\u2009=\u20091', '']]},
                {kind: 'x', key: [2297, 2387], tx: 2429, y: 1830, label: [['Audard+2014', '']]},
                {kind: 'dot', key: [2297, 2387], tx: 2429, y: 1896, label: [['Dunham+2015', '']]}
            ])
    }
});
nearIr.render();
</script>
</body>
</html>
